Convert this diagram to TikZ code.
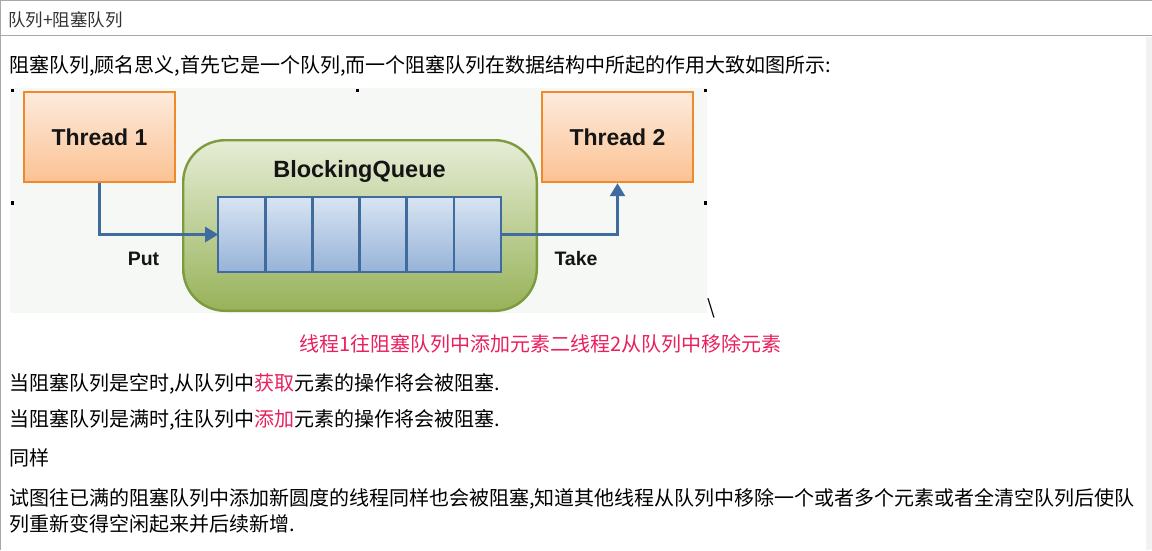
\documentclass[tikz,border=0pt]{standalone}
\usepackage{fontspec}
\setmainfont{Noto Sans CJK SC}
\newfontfamily\diagfont{Liberation Sans}
\usetikzlibrary{arrows.meta,positioning,calc}
\definecolor{Frame}{HTML}{A8A8A8}
\definecolor{TitleInk}{HTML}{333333}
\definecolor{Pink}{HTML}{E8205E}
\definecolor{Ink}{HTML}{151515}
\definecolor{Canvas}{HTML}{F6F8F6}
\definecolor{OrangeLine}{HTML}{EF8A2C}
\definecolor{OrangeTop}{HTML}{FDEBDC}
\definecolor{OrangeBot}{HTML}{FBC293}
\definecolor{GreenLine}{HTML}{7D9B3D}
\definecolor{GreenTop}{HTML}{E6EDD6}
\definecolor{GreenBot}{HTML}{97B259}
\definecolor{BlueLine}{HTML}{3F6B9F}
\definecolor{BlueTop}{HTML}{D8E4F2}
\definecolor{BlueBot}{HTML}{97B3D8}

\tikzset{
  para/.style={anchor=base west,inner sep=0pt,text=black,font=\fontsize{20}{24}\selectfont},
  thread/.style={draw=OrangeLine,line width=2.4pt,top color=OrangeTop,bottom color=OrangeBot,
    minimum width=151pt,minimum height=90pt,font=\diagfont\bfseries\fontsize{23}{26}\selectfont,text=Ink},
  cell/.style={draw=BlueLine,line width=2.4pt,top color=BlueTop,bottom color=BlueBot,
    minimum width=47.1pt,minimum height=74.6pt,inner sep=0pt,outer sep=0pt},
  flow/.style={draw=BlueLine,line width=2.6pt,-{Triangle[length=13pt,width=15pt]}},
  flowtag/.style={font=\diagfont\bfseries\fontsize{19.5}{22}\selectfont,text=Ink},
  handle/.style={fill=black}
}

\begin{document}
\begin{tikzpicture}[x=1pt,y=-1pt]
  \useasboundingbox (0,0) rectangle (1152,550);
  % window frame
  \fill[gray!10] (1146,37) rectangle (1152,550);
  \draw[Frame,line width=1pt] (0,0.5) -- (1152,0.5);
  \draw[Frame,line width=1pt] (0,35.5) -- (1152,35.5);
  \draw[Frame,line width=1pt] (0.5,0) -- (0.5,550);
  \node[anchor=base west,inner sep=0pt,text=TitleInk,font=\fontsize{17.5}{20}\selectfont] (title) at (8,26) {队列+阻塞队列};

  \node[para] (intro) at (9,72.5) {阻塞队列,顾名思义,首先它是一个队列,而一个阻塞队列在数据结构中所起的作用大致如图所示:};

  % embedded picture
  \fill[Canvas] (10,88) rectangle (707,313);
  \node[draw=GreenLine,line width=2.4pt,rounded corners=42pt,top color=GreenTop,bottom color=GreenBot,
    minimum width=353.6pt,minimum height=170.6pt] (queue) at (360,225.5) {};
  \node[anchor=base,font=\diagfont\bfseries\fontsize{23.5}{26}\selectfont,text=Ink] (qname) at (359.5,177) {BlockingQueue};
  \node[cell] (c1) at (241.75,234.5) {};
  \foreach \i [count=\j from 2] in {1,...,5}
    \node[cell,right=0pt of c\i] (c\j) {};
  \node[thread] (thread1) at (99.5,137) {Thread 1};
  \node[thread] (thread2) at (617.5,137) {Thread 2};
  \draw[flow] (thread1.south) |- (c1.west);
  \draw[flow] (c6.east) -| (thread2.south);
  \node[flowtag] (put) at (143.5,259) {Put};
  \node[flowtag] (take) at (576,259) {Take};
  % resize handles
  \fill[handle] (10.5,88.5) rectangle (13.5,92);
  \fill[handle] (355.5,88.5) rectangle (358.5,92);
  \fill[handle] (704,88.5) rectangle (707,92);
  \fill[handle] (10.5,201) rectangle (13.5,205);
  \fill[handle] (704,201) rectangle (707,205);
  \node[para] (slash) at (707.5,314) {\textbackslash};

  \node[para,anchor=base,text=Pink] (caption) at (540.5,351.5) {线程1往阻塞队列中添加元素二线程2从队列中移除元素};
  \node[para] (empty) at (9,390.5) {当阻塞队列是空时,从队列中\textcolor{Pink}{获取}元素的操作将会被阻塞.};
  \node[para] (full) at (9,426.5) {当阻塞队列是满时,往队列中\textcolor{Pink}{添加}元素的操作将会被阻塞.};
  \node[para] (same) at (9,465) {同样};
  \node[para] (long1) at (9,505) {试图往已满的阻塞队列中添加新圆度的线程同样也会被阻塞,知道其他线程从队列中移除一个或者多个元素或者全清空队列后使队};
  \node[para] (long2) at (9,531) {列重新变得空闲起来并后续新增.};
\end{tikzpicture}
\end{document}
